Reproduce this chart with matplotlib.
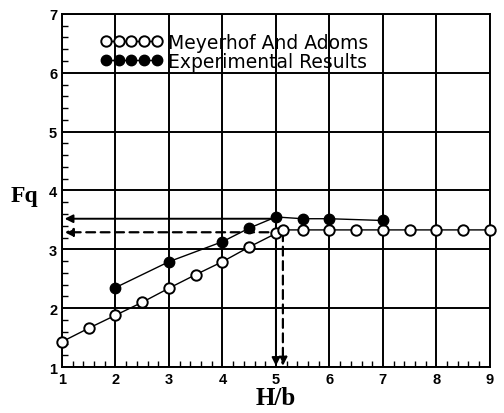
import matplotlib
matplotlib.use("Agg")
import matplotlib.pyplot as plt
from matplotlib.ticker import MultipleLocator
import numpy as np

# Data
meyer_x = [1, 1.5, 2, 2.5, 3, 3.5, 4, 4.5, 5, 5.13, 5.5, 6, 6.5, 7, 7.5, 8, 8.5, 9]
meyer_y = [1.43, 1.66, 1.88, 2.10, 2.34, 2.57, 2.79, 3.04, 3.27, 3.33, 3.33, 3.33, 3.33, 3.33, 3.33, 3.33, 3.33, 3.33]
exp_x = [2, 3, 4, 4.5, 5, 5.5, 6, 7]
exp_y = [2.35, 2.79, 3.13, 3.36, 3.55, 3.52, 3.52, 3.49]
xticks = [1, 2, 3, 4, 5, 6, 7, 8, 9]
yticks = [1, 2, 3, 4, 5, 6, 7]

fig = plt.figure(figsize=(5.04, 4.14), dpi=100)
ax = fig.add_axes([0.123, 0.111, 0.849, 0.853])

ax.set_xlim(1, 9)
ax.set_ylim(1, 7)
ax.set_xticks(xticks)
ax.set_yticks(yticks)
ax.xaxis.set_minor_locator(MultipleLocator(0.2))
ax.yaxis.set_minor_locator(MultipleLocator(0.2))
ax.tick_params(which='major', length=0, pad=3.5, labelsize=10.5)
ax.tick_params(which='minor', direction='in', length=4, width=1, color='black')
for lab in ax.get_xticklabels() + ax.get_yticklabels():
    lab.set_fontweight('bold')
    lab.set_family('Liberation Sans')
ax.grid(True, which='major', color='black', linewidth=1.4)
for s in ax.spines.values():
    s.set_linewidth(1.4)

ax.plot(meyer_x, meyer_y, '-', color='black', lw=1.0, marker='o', ms=7.5,
        mfc='white', mec='black', mew=1.4, label='Meyerhof And Adoms', zorder=4, clip_on=False)
ax.plot(exp_x, exp_y, '-', color='black', lw=1.0, marker='o', ms=7.5,
        mfc='black', mec='black', label='Experimental Results', zorder=4)

# critical points
i_exp = int(np.argmax(exp_y))
px, py = exp_x[i_exp], exp_y[i_exp]
mx, my = meyer_x[9], meyer_y[9] - 0.04

arr = dict(arrowstyle='-|>', color='black', lw=1.4, mutation_scale=12, shrinkA=0, shrinkB=0)
ax.annotate('', xy=(1.05, py - 0.03), xytext=(px, py - 0.03), arrowprops=arr, zorder=3)
ax.annotate('', xy=(px, 1.02), xytext=(px, py), arrowprops=arr, zorder=3)
arr2 = dict(arrowstyle='-|>', color='black', lw=1.6, ls=(0, (4, 2.5)), mutation_scale=12, shrinkA=0, shrinkB=0)
ax.annotate('', xy=(1.05, my), xytext=(mx, my), arrowprops=arr2, zorder=3)
ax.annotate('', xy=(mx, 1.02), xytext=(mx, my), arrowprops=arr2, zorder=3)

leg = ax.legend(loc='upper left', bbox_to_anchor=(0.072, 0.968), frameon=False,
                numpoints=5, handlelength=3.3, handletextpad=0.3, labelspacing=0.0,
                prop={'family': 'DejaVu Sans', 'size': 13.5}, borderaxespad=0)

ax.set_xlabel('H/b', family='Liberation Serif', fontweight='bold', fontsize=18, labelpad=0)
ax.set_ylabel('Fq', family='Liberation Serif', fontweight='bold', fontsize=17, rotation=0,
              va='center', ha='center')
ax.yaxis.set_label_coords(-0.088, 0.485)

fig.savefig('out.png', dpi=100)
